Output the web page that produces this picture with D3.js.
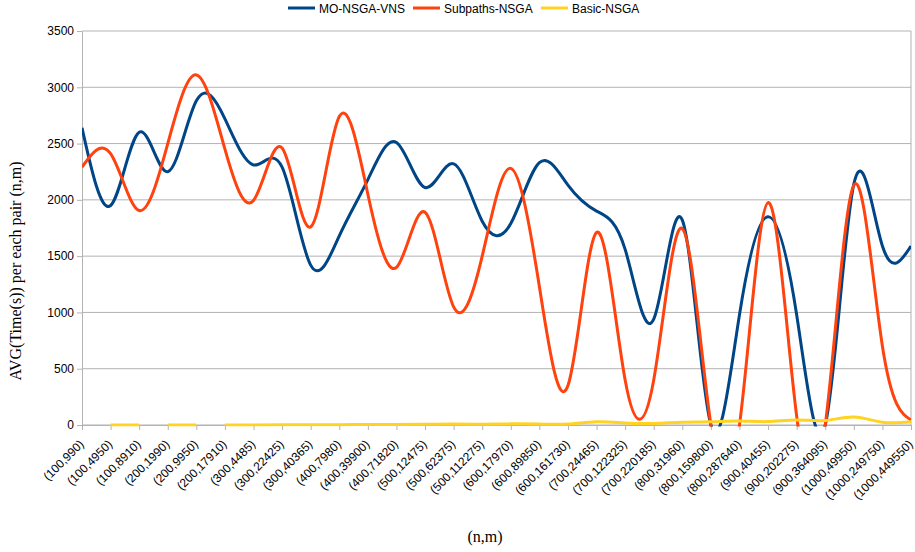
<!DOCTYPE html>
<html>
<head>
<meta charset="utf-8">
<script src="https://cdn.jsdelivr.net/npm/d3@7"></script>
<style>
  body { margin: 0; background: #fff; }
  text { font-family: "Liberation Sans", Arial, sans-serif; }
</style>
</head>
<body>
<svg width="915" height="552"></svg>
<script>
const pairs = ["(100,990)", "(100,4950)", "(100,8910)", "(200,1990)", "(200,9950)", "(200,17910)",
	"(300,4485)", "(300,22425)", "(300,40365)", "(400,7980)", "(400,39900)", "(400,71820)",
	"(500,12475)", "(500,62375)", "(500,112275)", "(600,17970)", "(600,89850)", "(600,161730)",
	"(700,24465)", "(700,122325)", "(700,220185)", "(800,31960)", "(800,159800)", "(800,287640)",
	"(900,40455)", "(900,202275)", "(900,364095)", "(1000,49950)", "(1000,249750)", "(1000,449550)"]

const moNsgaVns = [2640, 1950, 2600, 2250, 2880, 2720, 2310, 2290, 1420, 1680, 2180, 2510, 2110, 2320, 1810,
	1790, 2330, 2130, 1900, 1560, 940, 1820, 0, 980, 1850, 980, 0, 2140, 1590, 1590]

const subpathsNsga = [2290, 2410, 1905, 2500, 3110, 2450, 1995, 2460, 1760, 2740, 2050, 1400, 1890, 1050, 1500,
	2280, 1230, 350, 1710, 400, 400, 1745, 0, 0, 1975, 80, 0, 2130, 700, 45]

// first value missing; the line is broken after index 2 and 4
const basicNsga = [null, 0, 0, 0, 0, 0, 1, 2, 2, 3, 4, 5, 6, 8, 7,
	10, 8, 8, 28, 18, 14, 24, 28, 35, 30, 45, 40, 70, 25, 30]
const basicBreaks = [2, 4]

const yTicks = [0, 500, 1000, 1500, 2000, 2500, 3000, 3500]

const series = [
	{name: "MO-NSGA-VNS", values: moNsgaVns, color: "#004586"},
	{name: "Subpaths-NSGA", values: subpathsNsga, color: "#ff420e"},
	{name: "Basic-NSGA", values: basicNsga, color: "#ffd320", breaks: basicBreaks}
]

const svg = d3.select('svg')
const width = +svg.attr('width')
const height = +svg.attr('height')

const margin = {top: 31, right: 4, bottom: 127, left: 82}
const innerWidth = width - margin.left - margin.right
const innerHeight = height - margin.top - margin.bottom
const gridColor = '#b3b3b3'

const xScale = d3.scalePoint()
	.domain(pairs)
	.range([0, innerWidth])

const yScale = d3.scaleLinear()
	.domain([0, 3500])
	.range([innerHeight, 0])

const g = svg.append('g')
	.attr('transform', `translate(${margin.left}, ${margin.top})`)

// horizontal grid
g.append('g').selectAll('line').data(yTicks)
	.enter().append('line')
	.attr('x1', 0).attr('x2', innerWidth)
	.attr('y1', d => yScale(d)).attr('y2', d => yScale(d))
	.attr('stroke', gridColor)

// right border
g.append('line')
	.attr('x1', innerWidth).attr('x2', innerWidth)
	.attr('y1', 0).attr('y2', innerHeight)
	.attr('stroke', gridColor)

const yAxis = d3.axisLeft(yScale).tickValues(yTicks).tickFormat(d3.format('d'))
	.tickSize(5).tickSizeOuter(0).tickPadding(3)
const yG = g.append('g').call(yAxis)
yG.selectAll('.domain, .tick line').attr('stroke', gridColor)
yG.selectAll('text').attr('font-size', 12).attr('fill', '#000')
	.style('font-family', '"Liberation Sans", Arial, sans-serif')

const xAxis = d3.axisBottom(xScale).tickSize(5).tickSizeOuter(0)
const xG = g.append('g').call(xAxis)
	.attr('transform', `translate(0, ${innerHeight})`)
xG.selectAll('.domain, .tick line').attr('stroke', gridColor)
xG.selectAll('text')
	.attr('font-size', 12).attr('fill', '#000')
	.style('font-family', '"Liberation Sans", Arial, sans-serif')
	.attr('text-anchor', 'end')
	.attr('dy', null)
	.attr('y', null)
	.attr('transform', 'translate(2, 20) rotate(-45)')

// series, clipped to the plot area
svg.append('defs').append('clipPath').attr('id', 'plot-clip')
	.append('rect')
	.attr('x', 0).attr('y', -2)
	.attr('width', innerWidth).attr('height', innerHeight + 3.5)

const line = d3.line()
	.defined(d => d.v !== null)
	.x(d => xScale(pairs[d.i]))
	.y(d => yScale(d.v))
	.curve(d3.curveNatural)

const plot = g.append('g').attr('clip-path', 'url(#plot-clip)')

series.forEach(s => {
	const pts = s.values.map((v, i) => ({i, v}))
	// split into runs at the breaks
	const runs = []
	let cur = []
	pts.forEach(p => {
		cur.push(p)
		if (s.breaks && s.breaks.includes(p.i)) { runs.push(cur); cur = [] }
	})
	runs.push(cur)
	runs.forEach(r => {
		plot.append('path')
			.attr('d', line(r))
			.attr('fill', 'none')
			.attr('stroke', s.color)
			.attr('stroke-width', 3)
	})
})

// legend
const legend = svg.append('g')
const legendX = [288, 413, 541]
series.forEach((s, i) => {
	const lg = legend.append('g').attr('transform', `translate(${legendX[i]}, 8)`)
	lg.append('line').attr('x1', 0).attr('x2', 27).attr('y1', 0).attr('y2', 0)
		.attr('stroke', s.color).attr('stroke-width', 3)
	lg.append('text').attr('x', 31).attr('y', 4.5)
		.attr('font-size', 12).attr('fill', '#000')
		.text(s.name)
})

// axis titles
svg.append('text')
	.attr('transform', 'translate(21, 271) rotate(-90)')
	.attr('text-anchor', 'middle')
	.attr('font-size', 16)
	.style('font-family', '"Liberation Serif", "Times New Roman", serif')
	.text('AVG(Time(s)) per each pair (n,m)')

svg.append('text')
	.attr('x', 485).attr('y', 542)
	.attr('text-anchor', 'middle')
	.attr('font-size', 16)
	.style('font-family', '"Liberation Serif", "Times New Roman", serif')
	.text('(n,m)')
</script>
</body>
</html>
